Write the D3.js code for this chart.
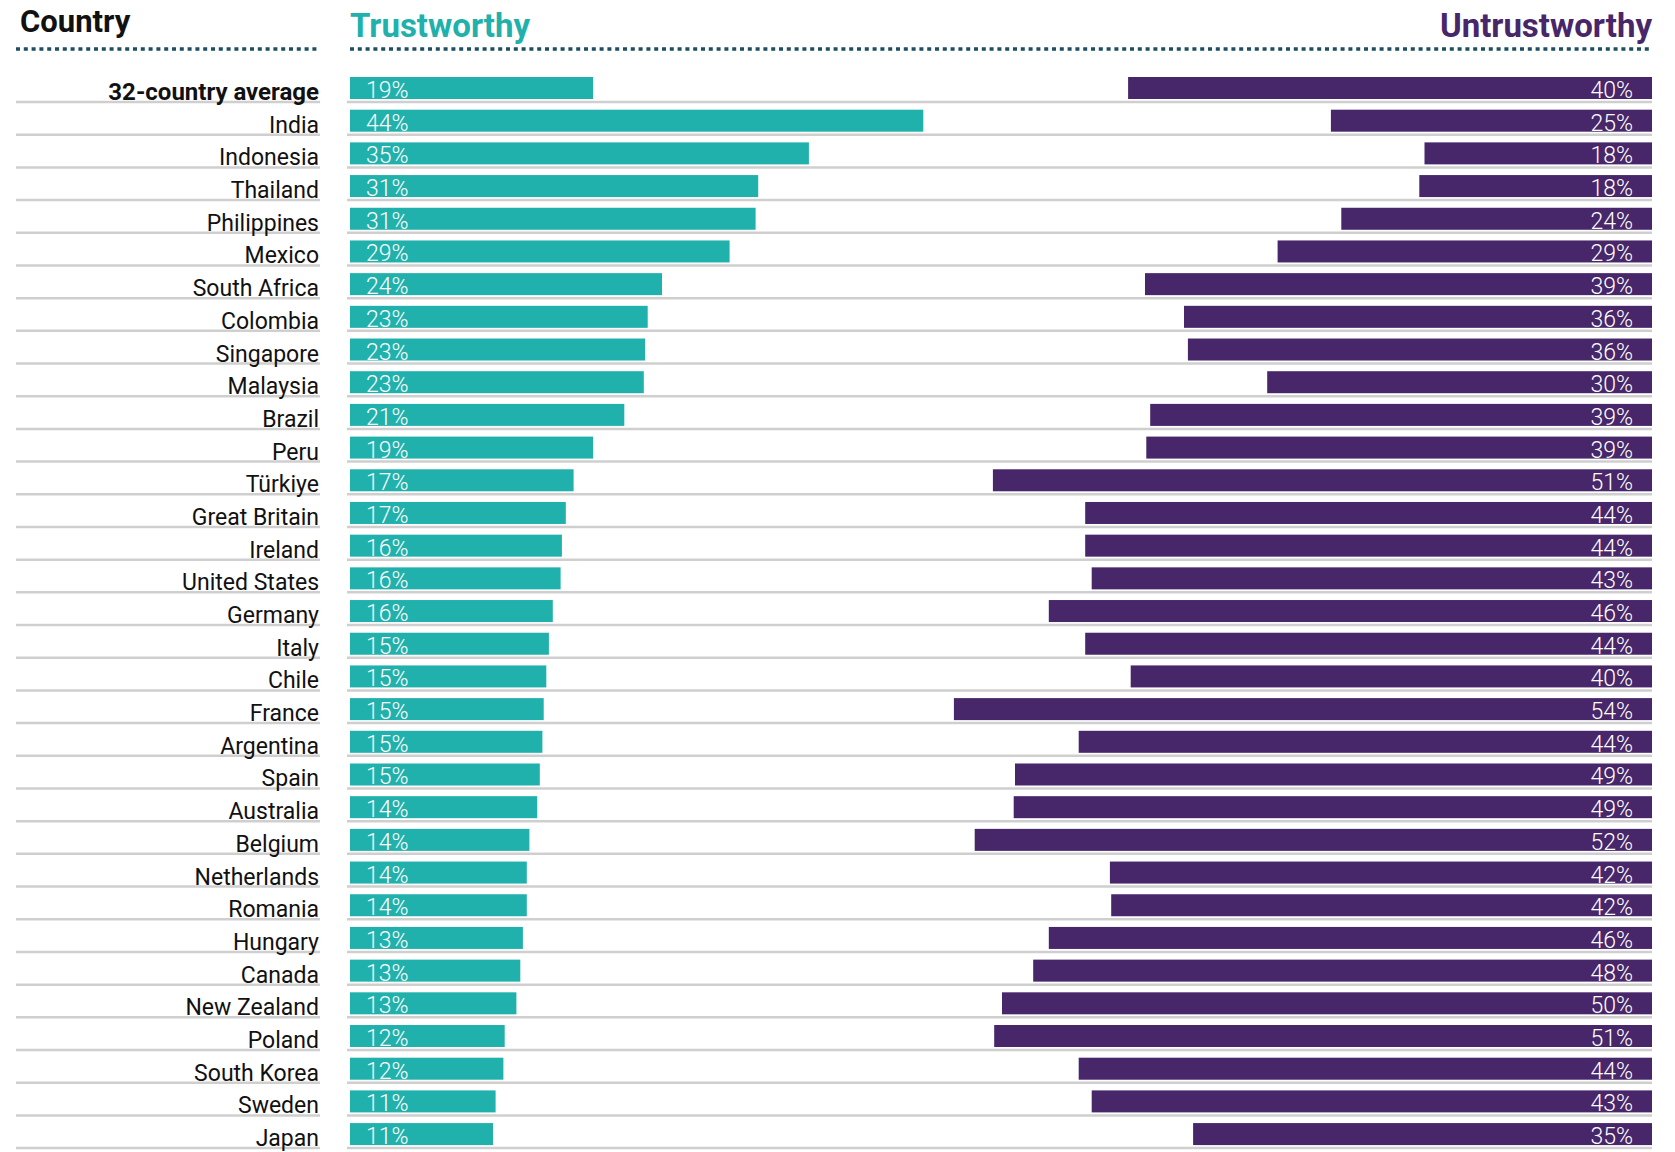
<!DOCTYPE html>
<html>
<head>
<meta charset="utf-8">
<script src="https://cdn.jsdelivr.net/npm/d3@7"></script>
<style>
  body { margin: 0; background: #fff; }
  text { font-family: Roboto, "Noto Sans", sans-serif; }
</style>
</head>
<body>
<div id="chart"></div>
<script>
/**
 * DATA
 * */
const countries = ["32-country average", "India", "Indonesia", "Thailand", "Philippines", "Mexico",
  "South Africa", "Colombia", "Singapore", "Malaysia", "Brazil", "Peru", "Türkiye", "Great Britain",
  "Ireland", "United States", "Germany", "Italy", "Chile", "France", "Argentina", "Spain", "Australia",
  "Belgium", "Netherlands", "Romania", "Hungary", "Canada", "New Zealand", "Poland", "South Korea",
  "Sweden", "Japan"];

const trustworthy = [18.7, 44.1, 35.3, 31.4, 31.2, 29.2, 24.0, 22.9, 22.7, 22.6, 21.1, 18.7, 17.2, 16.6,
  16.3, 16.2, 15.6, 15.3, 15.1, 14.9, 14.8, 14.6, 14.4, 13.8, 13.6, 13.6, 13.3, 13.1, 12.8, 11.9, 11.8,
  11.2, 11.0];

const untrustworthy = [40.3, 24.7, 17.5, 17.9, 23.9, 28.8, 39.0, 36.0, 35.7, 29.6, 38.6, 38.9, 50.7, 43.6,
  43.6, 43.1, 46.4, 43.6, 40.1, 53.7, 44.1, 49.0, 49.1, 52.1, 41.7, 41.6, 46.4, 47.6, 50.0, 50.6, 44.1,
  43.1, 35.3];

const headers = { country: "Country", trust: "Trustworthy", untrust: "Untrustworthy" };

/**
 * CONSTANTS
 * */
const width = 1675, height = 1152;
const labelLeft = 16, labelRight = 320;
const barLeft = 350, barRight = 1652;
const teal = "#21b1ac", purple = "#47266a", dotColor = "#1d4e63";

const rows = countries.map((c, i) => ({ country: c, t: trustworthy[i], u: untrustworthy[i] }));

const svg = d3.select("#chart").append("svg")
  .attr("width", width)
  .attr("height", height);

// one scale for both sides: % -> pixel length
const x = d3.scaleLinear().domain([0, 100]).range([0, 1300]);

const step = 32.69, bw = 22;
const y = d3.scaleBand()
  .domain(countries)
  .range([77, 77 + step * (countries.length - (1 - bw / step))])
  .paddingInner(1 - bw / step)
  .paddingOuter(0);

// headers
svg.append("text").attr("x", 20).attr("y", 32)
  .attr("font-size", 31).attr("font-weight", 700).attr("fill", "#111")
  .text(headers.country);
svg.append("text").attr("x", barLeft).attr("y", 37)
  .attr("font-size", 33).attr("font-weight", 700).attr("fill", teal)
  .text(headers.trust);
svg.append("text").attr("x", barRight).attr("y", 37)
  .attr("text-anchor", "end")
  .attr("font-size", 33).attr("font-weight", 700).attr("fill", purple)
  .text(headers.untrust);

// dotted rules
[[labelLeft, labelRight], [barLeft, barRight]].forEach(([a, b]) => {
  svg.append("line")
    .attr("x1", a).attr("x2", b).attr("y1", 49).attr("y2", 49)
    .attr("stroke", dotColor).attr("stroke-width", 3.5)
    .attr("stroke-dasharray", "4,3.8");
});

const row = svg.selectAll("g.row")
  .data(rows)
  .join("g")
  .attr("class", "row")
  .attr("transform", d => `translate(0,${y(d.country)})`);

// grey separators
row.append("line")
  .attr("x1", labelLeft).attr("x2", labelRight)
  .attr("y1", bw + 3).attr("y2", bw + 3)
  .attr("stroke", "#cfcfcf").attr("stroke-width", 2.5);
row.append("line")
  .attr("x1", barLeft - 3).attr("x2", barRight)
  .attr("y1", bw + 3).attr("y2", bw + 3)
  .attr("stroke", "#cfcfcf").attr("stroke-width", 2.5);

// country names
row.append("text")
  .attr("x", labelRight - 1)
  .attr("y", bw + 1)
  .attr("text-anchor", "end")
  .attr("font-size", (d, i) => i === 0 ? 24 : 23)
  .attr("font-weight", (d, i) => i === 0 ? 700 : 400)
  .attr("fill", "#111")
  .text(d => d.country);

// trustworthy bars
row.append("rect")
  .attr("x", barLeft)
  .attr("y", 0)
  .attr("width", d => x(d.t))
  .attr("height", y.bandwidth())
  .attr("fill", teal);

row.append("text")
  .attr("x", barLeft + 16)
  .attr("y", bw - 1)
  .attr("font-size", 23)
  .attr("font-weight", 300)
  .attr("fill", "#fff")
  .text(d => Math.round(d.t) + "%");

// untrustworthy bars
row.append("rect")
  .attr("x", d => barRight - x(d.u))
  .attr("y", 0)
  .attr("width", d => x(d.u))
  .attr("height", y.bandwidth())
  .attr("fill", purple);

row.append("text")
  .attr("x", barRight - 19)
  .attr("y", bw - 1)
  .attr("text-anchor", "end")
  .attr("font-size", 23)
  .attr("font-weight", 300)
  .attr("fill", "#fff")
  .text(d => Math.round(d.u) + "%");
</script>
</body>
</html>
